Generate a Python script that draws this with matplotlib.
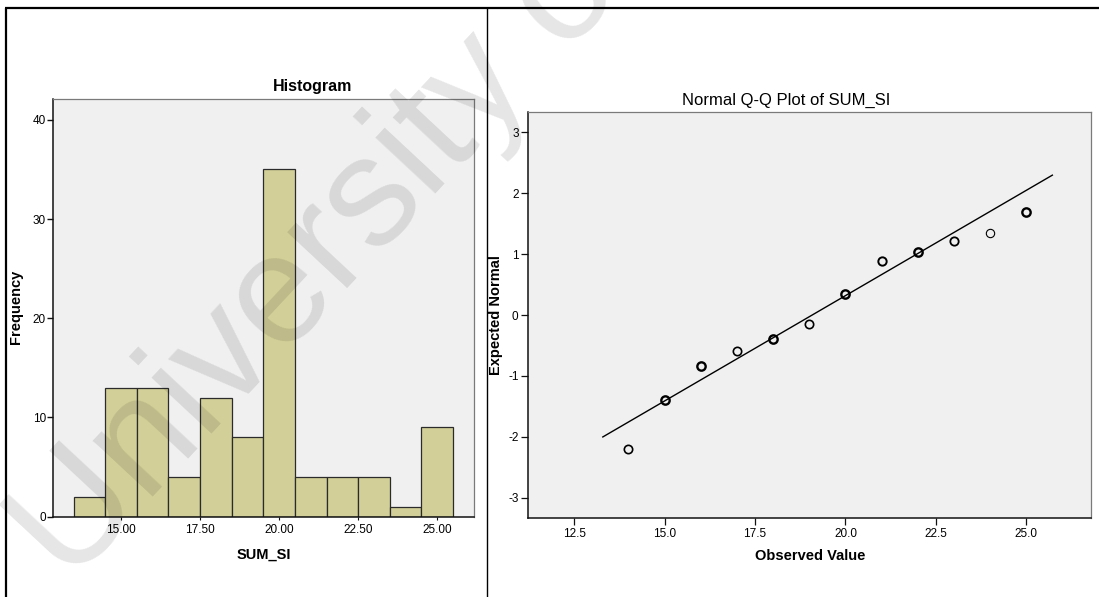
import matplotlib
matplotlib.use("Agg")
import matplotlib.pyplot as plt
from matplotlib.lines import Line2D
from matplotlib import font_manager
import numpy as np

# histogram of SUM_SI (bins of width 1 centred on the integer scores)
bin_centers = [14, 15, 16, 17, 18, 19, 20, 21, 22, 23, 24, 25]
frequencies = [2, 13, 13, 4, 12, 8, 35, 4, 4, 4, 1, 9]
hist_xticks = [15.0, 17.5, 20.0, 22.5, 25.0]
hist_yticks = [0, 10, 20, 30, 40]

# normal Q-Q plot: observed value vs. expected normal score
qq_observed = [14, 15, 16, 17, 18, 19, 20, 21, 22, 23, 24, 25]
qq_expected = [-2.20, -1.40, -0.84, -0.59, -0.39, -0.14, 0.35, 0.89, 1.04, 1.21, 1.34, 1.69]
qq_edge_width = [1.2, 1.7, 1.7, 1.2, 1.7, 1.2, 1.7, 1.4, 1.7, 1.3, 0.8, 1.7]
ref_mean, ref_sd = 19.08, 2.89          # reference line z = (x - mean) / sd
ref_x = [13.29, 25.72]
qq_xticks = [12.5, 15.0, 17.5, 20.0, 22.5, 25.0]
qq_yticks = [-3, -2, -1, 0, 1, 2, 3]

W, H = 1099, 597
BAR = "#d3cf98"
PANEL = "#f0f0f0"

installed = {f.name for f in font_manager.fontManager.ttflist}
SANS = "Liberation Sans" if "Liberation Sans" in installed else "DejaVu Sans"
NARROW = "Liberation Sans Narrow" if "Liberation Sans Narrow" in installed else SANS
plt.rcParams["font.family"] = SANS
plt.rcParams["axes.unicode_minus"] = False


def box(left, top, right, bottom):
    """Axes rectangle from pixel edges (origin top-left)."""
    return [left / W, (H - bottom) / H, (right - left) / W, (bottom - top) / H]


def px(x, y):
    return x / W, (H - y) / H


def style_frame(ax):
    ax.set_facecolor(PANEL)
    for side in ("top", "right"):
        ax.spines[side].set_color("#7a7a7a")
        ax.spines[side].set_linewidth(0.9)
    for side in ("left", "bottom"):
        ax.spines[side].set_color("#111111")
        ax.spines[side].set_linewidth(1.1)


fig = plt.figure(figsize=(W / 100, H / 100), dpi=100)
fig.patch.set_facecolor("white")

# ---- left panel: histogram
ax1 = fig.add_axes(box(53, 99, 474.3, 516.7))
style_frame(ax1)
ax1.bar(bin_centers, frequencies, width=1.0, color=BAR, edgecolor="#2b2b2b",
        linewidth=0.9, zorder=2)
ax1.set_xlim(12.85, 26.17)
ax1.set_ylim(0, 42.1)
ax1.set_xticks(hist_xticks)
ax1.set_xticklabels([f"{t:.2f}" for t in hist_xticks])
ax1.set_yticks(hist_yticks)
ax1.tick_params(axis="y", direction="out", length=4, width=1, color="#111111",
                labelsize=8.5, pad=1)
ax1.tick_params(axis="x", direction="out", length=2, width=0.8, color="#111111",
                labelsize=8.5, pad=3)

fig.text(*px(313, 87), "Histogram", ha="center", va="center",
         fontsize=11.5, fontweight="bold")
fig.text(*px(264, 555), "SUM_SI", ha="center", va="center",
         fontsize=10.5, fontweight="bold")
fig.text(*px(16, 307), "Frequency", ha="center", va="center", rotation=90,
         fontsize=10.5, fontweight="bold")

# ---- right panel: normal Q-Q plot
ax2 = fig.add_axes(box(528.3, 111.7, 1090.7, 518.3))
style_frame(ax2)
ref_x = np.array(ref_x)
ax2.plot(ref_x, (ref_x - ref_mean) / ref_sd, color="black", lw=1.0, zorder=2)
for x, y, ew in zip(qq_observed, qq_expected, qq_edge_width):
    ax2.plot(x, y, marker="o", ms=6, mfc="none", mec="black", mew=ew,
             ls="none", zorder=3)
ax2.set_xlim(11.23, 26.78)
ax2.set_ylim(-3.34, 3.34)
ax2.set_xticks(qq_xticks)
ax2.set_xticklabels([f"{t:.1f}" for t in qq_xticks])
ax2.set_yticks(qq_yticks)
ax2.tick_params(direction="out", length=5, width=0.9, color="#111111",
                labelsize=7.5, pad=2)
for lab in ax2.get_xticklabels() + ax2.get_yticklabels():
    lab.set_fontfamily(NARROW)
    lab.set_fontsize(8.5)

fig.text(*px(786, 100), "Normal Q-Q Plot of SUM_SI", ha="center", va="center",
         fontsize=12, family=NARROW)
fig.text(*px(810, 556), "Observed Value", ha="center", va="center",
         fontsize=10.5, fontweight="bold")
fig.text(*px(496, 315), "Expected Normal", ha="center", va="center", rotation=90,
         fontsize=10.5, fontweight="bold")

# ---- outer frame and panel divider
frame = dict(transform=fig.transFigure, color="black", solid_capstyle="butt")
fig.add_artist(Line2D([5 / W, 1], [1 - 7.5 / H] * 2, lw=1.6, **frame))
fig.add_artist(Line2D([6 / W] * 2, [0, 1 - 7.5 / H], lw=1.6, **frame))
fig.add_artist(Line2D([486.5 / W] * 2, [0, 1 - 7.5 / H], lw=1.0, **frame))

# ---- watermark
fig.text(*px(70, 586), "University of", ha="left", va="baseline",
         rotation=47, rotation_mode="anchor", fontsize=112, color="black",
         alpha=0.10, zorder=10)

fig.savefig("out.png", dpi=100)
